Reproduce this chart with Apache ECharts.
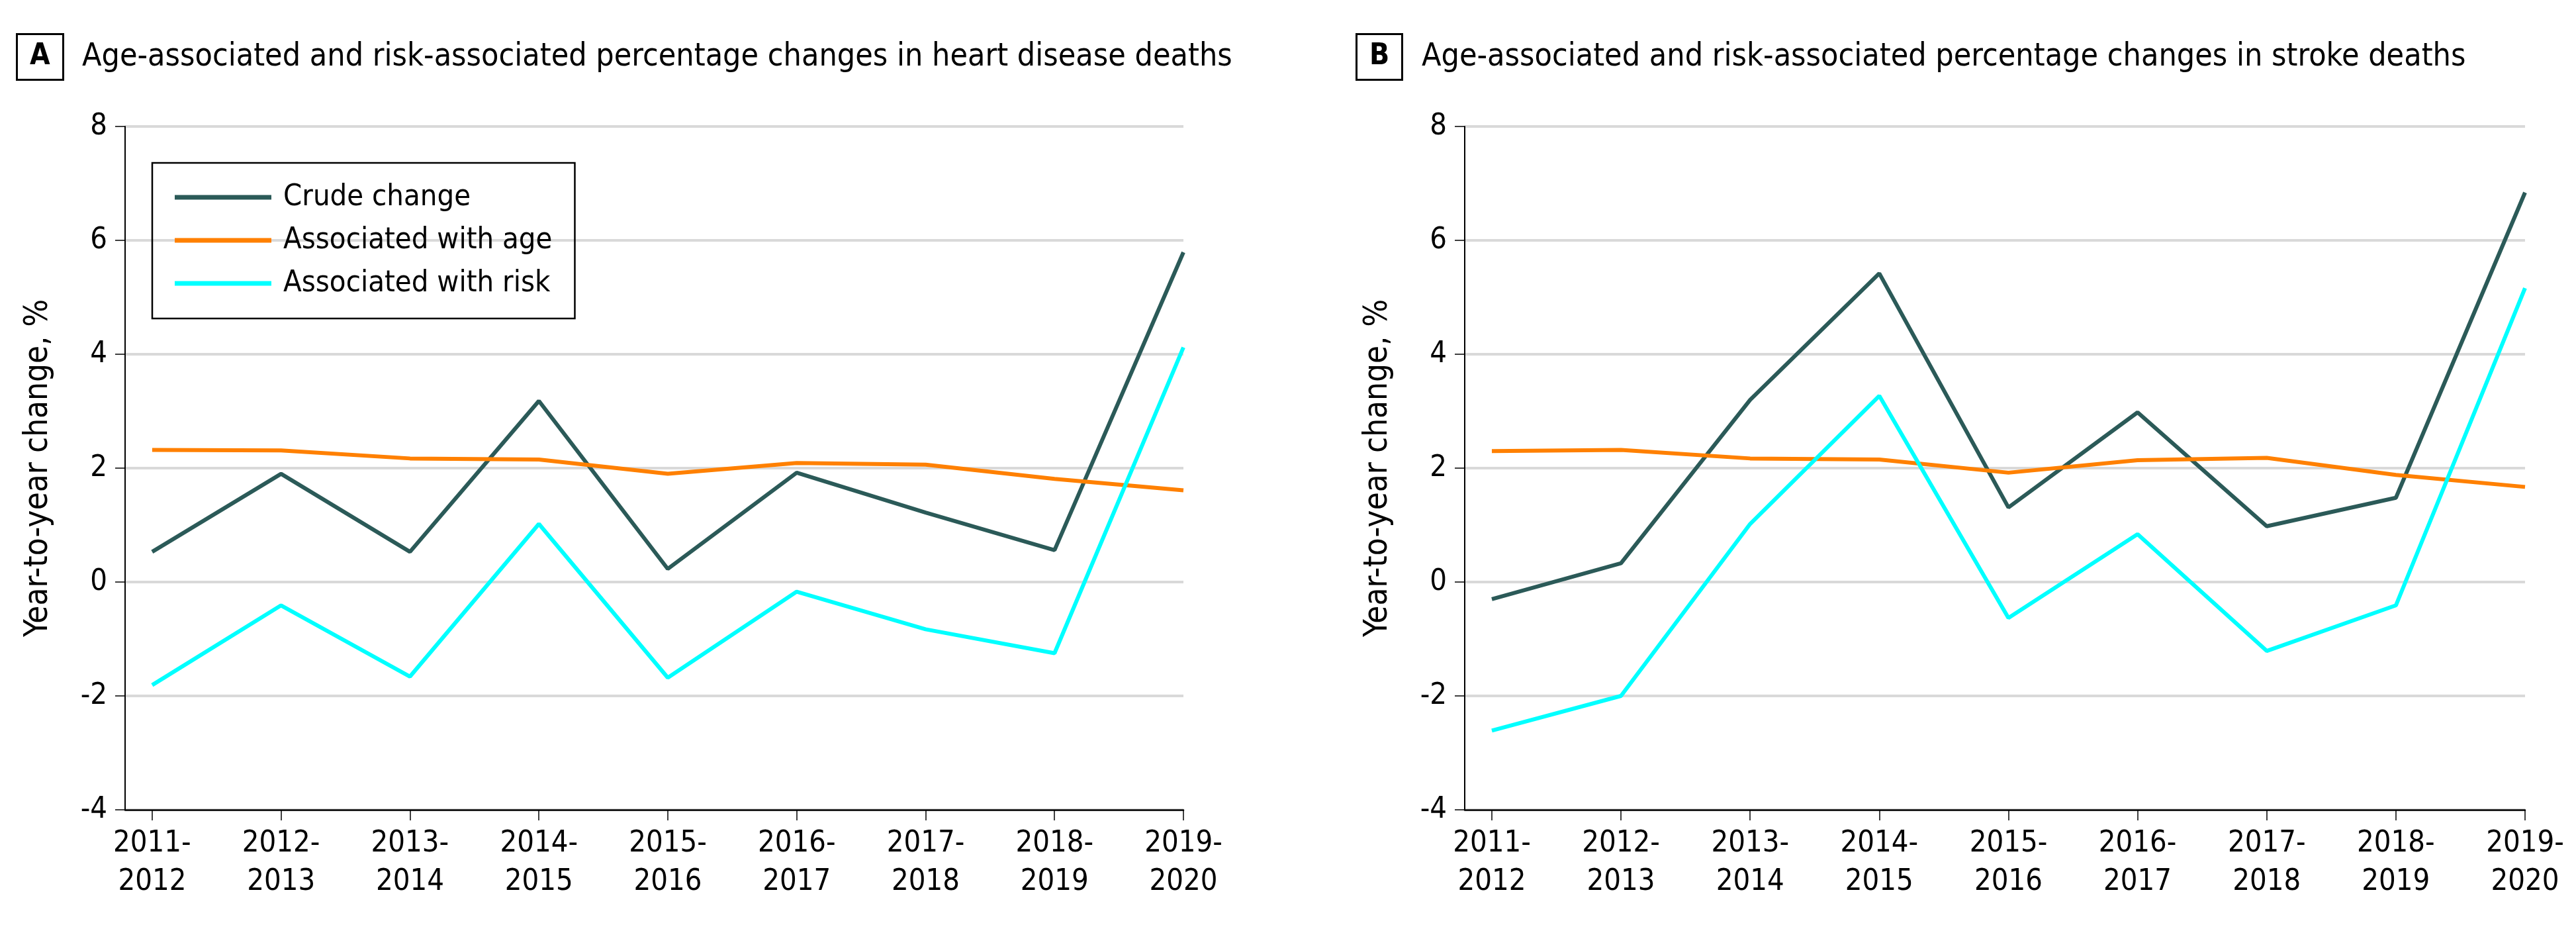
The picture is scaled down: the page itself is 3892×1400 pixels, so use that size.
<!DOCTYPE html>
<html>
<head>
<meta charset="utf-8">
<title>Heart disease and stroke deaths</title>
<script src="https://cdn.jsdelivr.net/npm/echarts@6/dist/echarts.min.js"></script>
<style>
  html, body { margin: 0; padding: 0; background: #fff; }
  #chart { width: 3892px; height: 1400px; }
</style>
</head>
<body>
<div id="chart"></div>
<script>
// period labels on the x axis
var periods = ['2011-\n2012', '2012-\n2013', '2013-\n2014', '2014-\n2015', '2015-\n2016',
  '2016-\n2017', '2017-\n2018', '2018-\n2019', '2019-\n2020']
var yTicks = [-4, -2, 0, 2, 4, 6, 8]

// panel A - heart disease deaths
var heartCrude = [0.53, 1.90, 0.53, 3.18, 0.23, 1.92, 1.22, 0.56, 5.79]
var heartAge = [2.32, 2.31, 2.17, 2.15, 1.90, 2.09, 2.06, 1.81, 1.61]
var heartRisk = [-1.81, -0.41, -1.66, 1.02, -1.68, -0.17, -0.83, -1.25, 4.12]

// panel B - stroke deaths
var strokeCrude = [-0.30, 0.33, 3.20, 5.42, 1.31, 2.98, 0.98, 1.48, 6.84]
var strokeAge = [2.30, 2.32, 2.17, 2.15, 1.92, 2.14, 2.18, 1.88, 1.67]
var strokeRisk = [-2.61, -2.00, 1.02, 3.27, -0.63, 0.84, -1.21, -0.41, 5.16]

var FONT = '"DejaVu Sans Condensed", "DejaVu Sans", sans-serif'
var colCrude = '#2B5A58'
var colAge = '#FF8000'
var colRisk = '#00FFFF'

function pairs(arr) {
  return arr.map(function (v, i) { return [i, v] })
}

var idx = periods.map(function (p, i) { return i })

function xAxis(gridIndex) {
  return {
    type: 'value',
    gridIndex: gridIndex,
    min: -0.21,
    max: 8,
    splitLine: { show: false },
    axisLine: { show: true, onZero: false, lineStyle: { color: '#000', width: 2.5 } },
    axisTick: { show: true, customValues: idx, length: 16, lineStyle: { color: '#000', width: 1.5 } },
    axisLabel: {
      customValues: idx,
      margin: 22,
      fontFamily: FONT,
      fontSize: 45,
      lineHeight: 58,
      color: '#000',
      formatter: function (v) { return periods[Math.round(v)] }
    }
  }
}

function yAxis(gridIndex) {
  return {
    type: 'value',
    gridIndex: gridIndex,
    min: yTicks[0],
    max: yTicks[yTicks.length - 1],
    interval: 2,
    name: 'Year-to-year change, %',
    nameLocation: 'middle',
    nameRotate: 90,
    nameGap: 106,
    nameTextStyle: { fontFamily: FONT, fontSize: 49, color: '#000' },
    axisLine: { show: true, onZero: false, lineStyle: { color: '#000', width: 2 } },
    axisTick: { show: true, length: 15, lineStyle: { color: '#000', width: 1.5 } },
    axisLabel: { margin: 27, fontFamily: FONT, fontSize: 45, color: '#000' },
    splitLine: { show: true, lineStyle: { color: '#D9D9D9', width: 4 } }
  }
}

function line(name, data, color, gridIndex) {
  return {
    name: name,
    type: 'line',
    xAxisIndex: gridIndex,
    yAxisIndex: gridIndex,
    data: pairs(data),
    showSymbol: false,
    symbol: 'none',
    lineStyle: { color: color, width: 6 },
    itemStyle: { color: color },
    animation: false
  }
}

function letterBox(text, left) {
  return {
    text: text,
    left: left,
    top: 51,
    padding: [10, 20],
    borderColor: '#000',
    borderWidth: 3,
    textStyle: { fontFamily: FONT, fontSize: 44, fontWeight: 'bold', color: '#000', lineHeight: 50 }
  }
}

function panelTitle(text, left) {
  return {
    text: text,
    left: left,
    top: 57,
    padding: 0,
    textStyle: { fontFamily: FONT, fontSize: 48, fontWeight: 'normal', color: '#000', lineHeight: 60 }
  }
}

var chart = echarts.init(document.getElementById('chart'))
chart.setOption({
  backgroundColor: '#fff',
  animation: false,
  title: [
    letterBox('A', 25),
    panelTitle('Age-associated and risk-associated percentage changes in heart disease deaths', 124),
    letterBox('B', 2049),
    panelTitle('Age-associated and risk-associated percentage changes in stroke deaths', 2148)
  ],
  legend: {
    orient: 'vertical',
    left: 230,
    top: 246,
    padding: [27, 34, 28, 34],
    itemGap: 15,
    itemWidth: 146,
    itemHeight: 7,
    icon: 'rect',
    borderColor: '#000',
    borderWidth: 2.5,
    data: ['Crude change', 'Associated with age', 'Associated with risk'],
    textStyle: { fontFamily: FONT, fontSize: 45, color: '#000', lineHeight: 50, padding: [0, 0, 0, 13] }
  },
  grid: [
    { left: 189, top: 191, width: 1599, height: 1032 },
    { left: 2213, top: 191, width: 1602, height: 1032 }
  ],
  xAxis: [xAxis(0), xAxis(1)],
  yAxis: [yAxis(0), yAxis(1)],
  series: [
    line('Crude change', heartCrude, colCrude, 0),
    line('Associated with age', heartAge, colAge, 0),
    line('Associated with risk', heartRisk, colRisk, 0),
    line('Crude change', strokeCrude, colCrude, 1),
    line('Associated with age', strokeAge, colAge, 1),
    line('Associated with risk', strokeRisk, colRisk, 1)
  ]
})
</script>
</body>
</html>
